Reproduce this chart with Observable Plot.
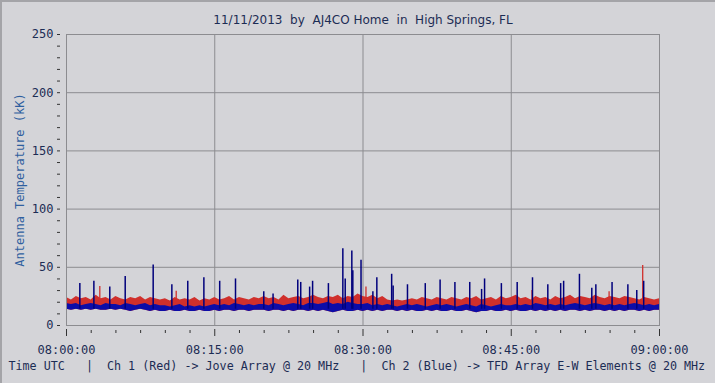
<!DOCTYPE html>
<html><head><meta charset="utf-8">
<script src="https://cdn.jsdelivr.net/npm/d3@7"></script>
<script src="https://cdn.jsdelivr.net/npm/@observablehq/plot@0.6"></script>
<style>
html,body{margin:0;padding:0;background:#d4d4d8;}
#wrap{position:relative;width:715px;height:383px;overflow:hidden;}
#edge{position:absolute;left:0;top:0;right:0;bottom:0;border-top:2px solid #a4a4a8;border-left:2px solid #a4a4a8;pointer-events:none;z-index:2;}
svg text{white-space:pre;}
</style></head><body><div id="wrap"><div id="edge"></div></div>
<script>
const titleText = "11/11/2013  by  AJ4CO Home  in  High Springs, FL";
const yLabel = "Antenna Temperature (kK)";
const captionText = "Time UTC   |  Ch 1 (Red) -> Jove Array @ 20 MHz   |  Ch 2 (Blue) -> TFD Array E-W Elements @ 20 MHz";

const xMajor = [0, 15, 30, 45, 60];
const xTickLabels = ["08:00:00", "08:15:00", "08:30:00", "08:45:00", "09:00:00"];
const xMinor = [2.5,5,7.5,10,12.5,17.5,20,22.5,25,27.5,32.5,35,37.5,40,42.5,47.5,50,52.5,55,57.5];
const yMajor = [0, 50, 100, 150, 200, 250];
const yMinor = [10,20,30,40,60,70,80,90,110,120,130,140,160,170,180,190,210,220,230,240];

// Sampled every 30 s from 08:00:00 (minutes after 08:00)
const sampleMinutes = d3.range(0, 60.01, 0.5);
// Ch 1 (red) upper edge of noise band, kK
const redHi = [
24,22,25,23,24,22,26,23,24,22,
25,23,22,24,23,25,22,24,23,22,
23,21,24,22,23,22,24,21,23,22,
24,22,23,25,22,24,23,22,24,23,
25,23,24,22,26,23,24,25,23,24,
26,24,23,25,24,26,23,25,24,27,
25,24,26,23,25,22,21,22,21,22,
23,22,24,23,22,24,23,22,24,23,
22,24,23,25,22,23,24,22,25,23,
24,26,23,24,22,25,23,24,22,25,
23,24,26,23,25,24,23,26,24,23,
25,24,23,25,24,23,22,24,23,22,
23];
// Ch 2 (blue) upper and lower edges of noise band, kK
const blueHi = [
19,18,19,17,18,19,18,17,19,18,
18,17,19,18,17,18,19,17,18,17,
17,16,17,18,16,17,16,17,16,17,
18,17,18,17,19,18,17,18,17,18,
18,17,19,18,17,18,19,18,17,19,
19,18,19,20,18,19,18,20,19,18,
18,19,17,18,17,18,17,16,17,18,
17,18,17,16,17,18,17,18,17,16,
17,18,17,16,18,17,16,17,18,17,
17,18,17,18,17,19,18,17,18,17,
18,17,18,19,18,17,18,19,18,17,
18,17,18,17,18,19,18,17,18,17,
18];
const blueLo = [
14,13,14,13,14,13,14,13,13,14,
13,14,13,12,13,14,13,12,13,12,
12,13,12,12,13,12,12,13,12,12,
13,12,13,13,12,13,13,12,13,13,
13,12,13,13,12,13,12,13,13,12,
13,12,13,12,11,12,13,12,12,13,
12,13,12,13,12,13,13,12,13,12,
13,12,12,13,12,13,12,12,13,12,
12,13,12,11,12,12,13,12,12,13,
12,13,12,12,13,12,13,12,13,12,
13,12,13,13,12,13,12,13,13,12,
13,12,13,12,13,13,12,13,12,13,
13];

// Spikes (minutes after 08:00, peak kK)
const blueSpikeT = [1.35,2.77,4.38,5.94,8.77,10.66,12.27,13.9,15.5,17.1,19.96,20.9,23.4,23.7,24.6,24.9,26.5,27.96,28.2,28.87,28.97,29.8,31.0,31.4,32.9,33.05,34.5,36.3,37.8,39.3,40.8,42.0,42.3,44.0,45.6,47.15,48.7,50.0,50.3,51.9,53.15,53.56,55.2,56.8,57.7,58.4];
const blueSpikeV = [36,38,33,42,52,35,38,41,38,40,29,27,39,37,33,38,36,66,40,64,47,56,29,41,44,34,35,36,39,37,37,31,40,36,37,41,35,36,38,44,32,35,37,35,30,38];
const redSpikeT = [3.37, 11.1, 30.3, 47.1, 54.9, 58.3];
const redSpikeV = [33.5, 29.5, 33, 30, 29, 51.5];

const samples = sampleMinutes.map((t, i) => ({t, redHi: redHi[i], blueHi: blueHi[i], blueLo: blueLo[i]}));
const blueSpikes = blueSpikeT.map((t, i) => ({t, v: blueSpikeV[i]}));
const redSpikes = redSpikeT.map((t, i) => ({t, v: redSpikeV[i]}));

const RED = "#d0302c", BLUE = "#0c0ca8", NAVY = "#00007c", GRID = "#8c8c90", INK = "#1c2c54";
const MONO = "'DejaVu Sans Mono', monospace";

const chart = Plot.plot({
  width: 715, height: 383,
  marginLeft: 66, marginRight: 56, marginTop: 34, marginBottom: 58,
  style: {background: "transparent", fontFamily: "'DejaVu Sans', Verdana, sans-serif", fontSize: "12px"},
  x: {domain: [0, 60], axis: null},
  y: {domain: [0, 250], axis: null},
  marks: [
    Plot.gridX([15, 30, 45], {stroke: GRID, strokeOpacity: 1}),
    Plot.gridY([50, 100, 150, 200], {stroke: GRID, strokeOpacity: 1}),
    Plot.areaY(samples, {x: "t", y1: "blueLo", y2: "redHi", fill: RED}),
    Plot.ruleX(redSpikes, {x: "t", y1: 18, y2: "v", stroke: RED, strokeWidth: 1.3}),
    Plot.areaY(samples, {x: "t", y1: "blueLo", y2: "blueHi", fill: BLUE}),
    Plot.ruleX(blueSpikes, {x: "t", y1: 14, y2: "v", stroke: NAVY, strokeWidth: 1.5}),
    Plot.frame({stroke: GRID}),
    Plot.axisY(yMajor, {anchor: "left", tickSize: 3, dx: -6, tickPadding: 4, stroke: "#333", fill: INK, fontSize: 12, fontFamily: MONO, label: null}),
    Plot.axisY(yMinor, {anchor: "left", tickSize: 3, dx: -6, tickFormat: () => "", stroke: "#333", label: null}),
    Plot.axisX(xMajor, {anchor: "bottom", tickSize: 7, dy: 4, tickPadding: 9, tickFormat: (d) => xTickLabels[xMajor.indexOf(d)], stroke: "#333", fill: INK, fontSize: 12, fontFamily: MONO, label: null}),
    Plot.axisX(xMinor, {anchor: "bottom", tickSize: 3, dy: 5, tickFormat: () => "", stroke: "#333", label: null}),
    Plot.text([titleText], {frameAnchor: "top", dy: -11, lineAnchor: "bottom", fill: INK, fontSize: 12}),
    Plot.text([yLabel], {frameAnchor: "left", textAnchor: "middle", rotate: -90, dx: -46, fill: "#2f5f9f", fontSize: 12, fontFamily: MONO}),
    Plot.text([captionText], {frameAnchor: "bottom-left", textAnchor: "start", dx: -58, dy: 44, lineAnchor: "bottom", fill: INK, fontSize: 11.7, fontFamily: MONO})
  ]
});
d3.select(chart).selectAll("text").attr("xml:space", "preserve");
chart.style.display = "block";
document.getElementById("wrap").prepend(chart);
</script></body></html>
